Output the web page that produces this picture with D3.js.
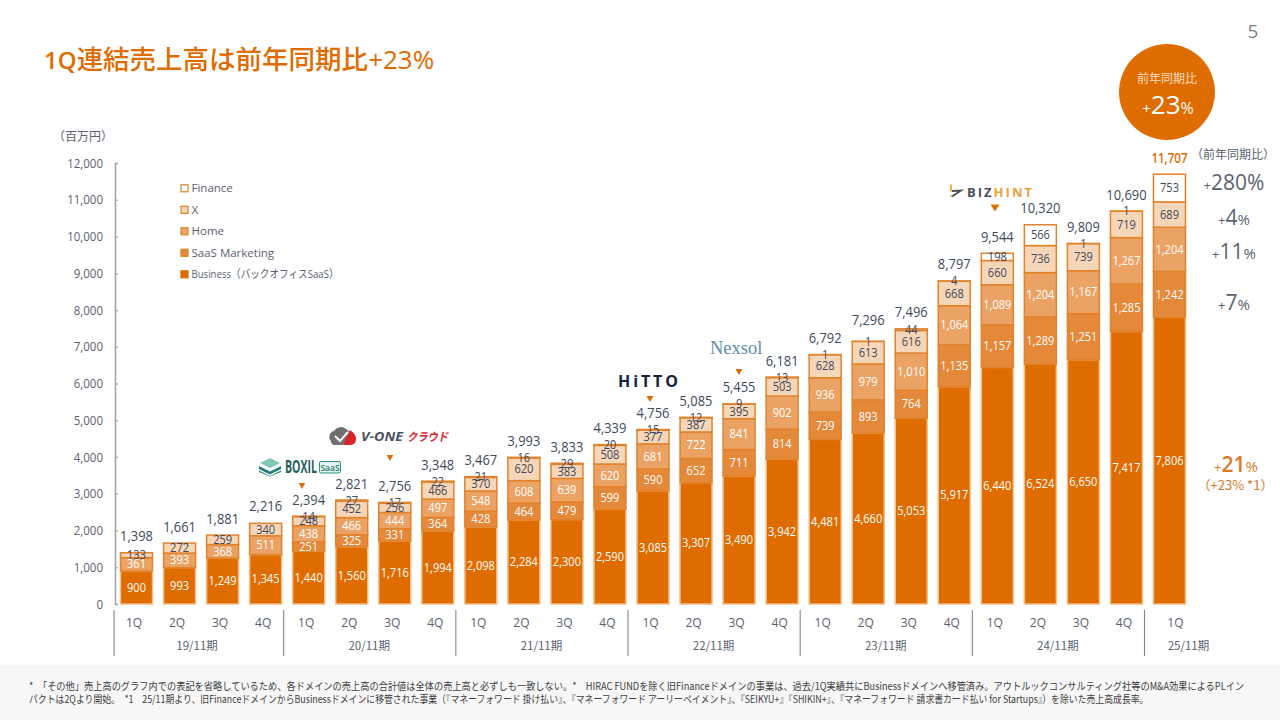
<!DOCTYPE html>
<html>
<head>
<meta charset="utf-8">
<script src="https://cdn.jsdelivr.net/npm/d3@7"></script>
<style>
  html, body { margin: 0; padding: 0; background: #fff; }
  svg { display: block; }
  text { font-family: "Open Sans", "Noto Sans CJK JP", sans-serif; }
  .jp { font-family: "Noto Sans CJK JP", "Open Sans", sans-serif; }
</style>
</head>
<body>
<svg id="chart" width="1280" height="720"></svg>
<script>
// Values
const quarters = ['1Q','2Q','3Q','4Q','1Q','2Q','3Q','4Q','1Q','2Q','3Q','4Q','1Q','2Q','3Q','4Q','1Q','2Q','3Q','4Q','1Q','2Q','3Q','4Q','1Q'];
const periods = ['19/11期','20/11期','21/11期','22/11期','23/11期','24/11期','25/11期'];
const business = [900,993,1249,1345,1440,1560,1716,1994,2098,2284,2300,2590,3085,3307,3490,3942,4481,4660,5053,5917,6440,6524,6650,7417,7806];
const saasMarketing = [0,0,0,0,251,325,331,364,428,464,479,599,590,652,711,814,739,893,764,1135,1157,1289,1251,1285,1242];
const home = [361,393,368,511,438,466,444,497,548,608,639,620,681,722,841,902,936,979,1010,1064,1089,1204,1167,1267,1204];
const xDomain = [133,272,259,340,248,452,256,466,370,620,383,508,377,387,395,503,628,613,616,668,660,736,739,719,689];
const finance = [0,0,0,0,14,27,17,22,21,16,29,20,15,12,9,13,1,1,44,4,198,566,1,1,753];
const totals = [1398,1661,1881,2216,2394,2821,2756,3348,3467,3993,3833,4339,4756,5085,5455,6181,6792,7296,7496,8797,9544,10320,9809,10690,11707];
const yTicks = [0,1000,2000,3000,4000,5000,6000,7000,8000,9000,10000,11000,12000];

const seriesNames = ['Business（バックオフィスSaaS）','SaaS Marketing','Home','X','Finance'];
const seriesValues = [business, saasMarketing, home, xDomain, finance];
const fills = ['#DE6C00','#E4883A','#EBA365','#F6D6B8','#FFFFFF'];
const strokes = ['#F5BE85','#E2832C','#E2832C','#E2832C','#E2832C'];
const labelFills = ['#fff','#fff','#fff','#404A5C','#404A5C'];

const growthLabels = ['280','4','11','7'];
const growthCenters = [183,218,252,303];

const svg = d3.select('#chart');
const ORANGE = '#DE6C00';
const INK = '#404A5C';
const GREY = '#5A6270';

// Squeeze wide Open Sans numbers closer to the slide's narrower face
function condense(sel, ratio) {
  sel.each(function() {
    const r = typeof ratio === 'function' ? ratio.apply(this, arguments) : ratio;
    d3.select(this).attr('textLength', this.getComputedTextLength() * r).attr('lengthAdjust', 'spacingAndGlyphs');
  });
}

// Long lines and logo words: scale horizontally so the box really is that wide
function fitLine(sel, left, baseline, width) {
  const len = sel.node().getComputedTextLength();
  sel.attr('transform', `translate(${left},${baseline}) scale(${width / len},1)`);
}

// Footer band
svg.append('rect').attr('x', 0).attr('y', 665).attr('width', 1280).attr('height', 55).attr('fill', '#F7F7F7');

// Scales
const x = d3.scaleBand().domain(d3.range(quarters.length)).range([115, 1191]).paddingInner(0.257).paddingOuter(0.1285);
const y = d3.scaleLinear().domain([0, 12000]).range([604, 163]);

// Y axis
const yAxis = svg.append('g')
  .attr('transform', 'translate(115,0)')
  .call(d3.axisLeft(y).tickValues(yTicks).tickFormat(d3.format(',')).tickSizeInner(-3).tickSizeOuter(-3).tickPadding(12));
yAxis.selectAll('path,line').attr('stroke', '#A6A6A6').attr('stroke-width', 1.2);
yAxis.select('.domain').attr('stroke-width', 1.6);
yAxis.selectAll('text').attr('fill', GREY).style('font-size', '12.5px').call(condense, 0.92);

svg.append('text').attr('class', 'jp').attr('x', 113).attr('y', 141).attr('text-anchor', 'end')
  .attr('fill', GREY).style('font-size', '12px').text('（百万円）');

// Stacked bars
const stack = seriesValues.map((vals, s) => vals.map((v, i) => {
  const base = d3.sum(seriesValues.slice(0, s), a => a[i]);
  return { i, s, v, y0: base, y1: base + v };
}));

const layers = svg.append('g').selectAll('g').data(stack).join('g');

layers.selectAll('rect')
  .data(d => d.filter(c => c.v > 0))
  .join('rect')
  .attr('x', d => x(d.i))
  .attr('width', x.bandwidth())
  .attr('y', d => y(d.y1))
  .attr('height', d => y(d.y0) - y(d.y1))
  .attr('fill', d => fills[d.s])
  .attr('stroke', d => strokes[d.s])
  .attr('stroke-width', 1.5);

const segLabels = svg.append('g').selectAll('g').data(stack).join('g');
segLabels.selectAll('text')
  .data(d => d.filter(c => c.v > 0))
  .join('text')
  .attr('x', d => x(d.i) + x.bandwidth() / 2)
  .attr('y', d => (y(d.y0) + y(d.y1)) / 2)
  .attr('dy', '0.35em')
  .attr('text-anchor', 'middle')
  .attr('fill', d => labelFills[d.s])
  .style('font-size', '12px')
  .text(d => d3.format(',')(d.v))
  .call(condense, 0.92);

// Totals above the bars
svg.append('g').selectAll('text')
  .data(totals)
  .join('text')
  .attr('x', (d, i) => x(i) + x.bandwidth() / 2)
  .attr('y', d => y(d) - 16.5)
  .attr('dy', '0.35em')
  .attr('text-anchor', 'middle')
  .attr('fill', (d, i) => i === totals.length - 1 ? ORANGE : INK)
  .style('font-size', '15px')
  .style('font-weight', (d, i) => i === totals.length - 1 ? 600 : 400)
  .text(d => d3.format(',')(d))
  .call(condense, (d, i) => i === totals.length - 1 ? 0.77 : 0.86);

// Quarter labels
const xAxis = svg.append('g')
  .attr('transform', 'translate(-2.5,610)')
  .call(d3.axisBottom(x).tickSize(0).tickPadding(8).tickFormat(i => quarters[i]));
xAxis.select('.domain').remove();
xAxis.selectAll('text').attr('fill', GREY).style('font-size', '12px');
xAxis.selectAll('.tick').filter(i => i === quarters.length - 1).select('text').attr('dx', 8.5);

// Fiscal year separators and labels
const groupStarts = d3.range(0, 25, 4);
svg.append('g').selectAll('line')
  .data(groupStarts)
  .join('line')
  .attr('x1', d => x(d) - (d === 0 ? 6.5 : 9))
  .attr('x2', d => x(d) - (d === 0 ? 6.5 : 9))
  .attr('y1', 610).attr('y2', 656)
  .attr('stroke', '#7F8590').attr('stroke-width', 1.1);

svg.append('g').selectAll('text')
  .data(periods)
  .join('text')
  .attr('class', 'jp')
  .attr('x', (d, k) => k < 6 ? (x(k * 4) + x(k * 4 + 3) + x.bandwidth()) / 2 - 4 : x(24) + x.bandwidth() / 2 + 19)
  .attr('y', 650)
  .attr('text-anchor', 'middle')
  .attr('fill', GREY)
  .style('font-size', '11.5px')
  .text(d => d);

// Legend
const legendRows = seriesNames.map((n, s) => ({ n, s })).reverse();
const legend = svg.append('g').selectAll('g').data(legendRows).join('g')
  .attr('transform', (d, k) => `translate(181,${188.3 + k * 21.5})`);
legend.append('rect').attr('x', 0).attr('y', -3.5).attr('width', 7).attr('height', 7)
  .attr('fill', d => fills[d.s])
  .attr('stroke', d => d.s === 0 ? ORANGE : '#D9822B').attr('stroke-width', 1.2);
legend.append('text').attr('x', 10.5).attr('dy', '0.35em').attr('fill', GREY)
  .style('font-size', '11.5px').text(d => d.n)
  .filter(d => d.s === 0).attr('textLength', 147).attr('lengthAdjust', 'spacingAndGlyphs');

// Title, page number
const title = svg.append('text').attr('x', 44).attr('y', 69).attr('fill', ORANGE);
title.append('tspan').style('font-size', '24px').style('font-weight', 600).text('1Q');
title.append('tspan').attr('class', 'jp').style('font-size', '26.5px').style('font-weight', 500).text('連結売上高は前年同期比');
title.append('tspan').style('font-size', '26px').style('font-weight', 500).text('+23%');
svg.append('text').attr('x', 1253).attr('y', 38).attr('text-anchor', 'middle').attr('fill', '#7F7F7F')
  .style('font-size', '19px').text('5');

// YoY badge
svg.append('circle').attr('cx', 1167).attr('cy', 92).attr('r', 48).attr('fill', ORANGE);
svg.append('text').attr('class', 'jp').attr('x', 1167).attr('y', 83).attr('text-anchor', 'middle')
  .attr('fill', '#F9DCC0').style('font-size', '12px').text('前年同期比');
const badge = svg.append('text').attr('x', 1168).attr('y', 114).attr('text-anchor', 'middle').attr('fill', '#fff');
badge.append('tspan').style('font-size', '15px').text('+');
badge.append('tspan').style('font-size', '26px').text('23');
badge.append('tspan').style('font-size', '16px').text('%');

// YoY column on the right
svg.append('text').attr('class', 'jp').attr('x', 1233).attr('y', 159).attr('text-anchor', 'middle')
  .attr('fill', GREY).style('font-size', '12px').text('（前年同期比）');
growthLabels.forEach((big, k) => {
  const t = svg.append('text').attr('x', 1234).attr('y', growthCenters[k] + 7).attr('text-anchor', 'middle').attr('fill', GREY);
  t.append('tspan').style('font-size', '13px').text('+');
  t.append('tspan').style('font-size', '21px').text(big);
  t.append('tspan').style('font-size', big === '280' ? '21px' : '15px').text('%');
});
const g21 = svg.append('text').attr('x', 1236).attr('y', 472).attr('text-anchor', 'middle').attr('fill', '#D97A2B');
g21.append('tspan').style('font-size', '13px').text('+');
g21.append('tspan').style('font-size', '21px').style('font-weight', 600).text('21');
g21.append('tspan').style('font-size', '15px').text('%');
svg.append('text').attr('class', 'jp').attr('x', 1235.5).attr('y', 490).attr('text-anchor', 'middle')
  .attr('fill', '#D97A2B').style('font-size', '13px').text('（+23% *1）');

// Acquisition markers: x, y, width, height
const markers = [[302, 486, 6.5, 6], [390, 458, 6.5, 6], [650, 399, 7, 6], [739, 372, 7, 6], [995, 208, 9, 7]];
svg.append('g').selectAll('path').data(markers).join('path')
  .attr('d', d => `M${d[0] - d[2] / 2},${d[1] - d[3] / 2}h${d[2]}l${-d[2] / 2},${d[3]}z`)
  .attr('fill', ORANGE);

// BOXIL SaaS
svg.append('path').attr('d', 'M270,458l10,5l-10,5l-10,-5z').attr('fill', '#7FC8B8');
svg.append('path').attr('d', 'M259,466l11,5.5l11,-5.5v3l-11,5.5l-11,-5.5zM259,470.5l11,5.5l11,-5.5v1.5l-11,4.5l-11,-4.5z').attr('fill', '#1E7F78');
const boxil = svg.append('text').attr('fill', '#1F5F5B').style('font-size', '17.5px').style('font-weight', 700).text('BOXIL');
fitLine(boxil, 285, 473, 32);
svg.append('rect').attr('x', 319.5).attr('y', 461.5).attr('width', 21).attr('height', 11.5).attr('rx', 1.5).attr('fill', '#E6F3F1').attr('stroke', '#2A8C84');
svg.append('text').attr('x', 330).attr('y', 470.5).attr('text-anchor', 'middle').attr('fill', '#1F7A73').style('font-size', '8.5px').style('font-weight', 600).text('SaaS');

// V-ONE
svg.append('path').attr('d', 'M331,441a6,6 0 0 1 3,-10a8,8 0 0 1 12,-2l4,3l-7,13h-9a4,4 0 0 1 -3,-4z').attr('fill', '#6E6E6E');
svg.append('path').attr('d', 'M349,445h-6l7,-15q6,4 6,9q0,6 -7,6z').attr('fill', '#D8232A');
svg.append('path').attr('d', 'M335,436l5,5l8,-9').attr('fill', 'none').attr('stroke', '#fff').attr('stroke-width', 2);
const vone = svg.append('text').attr('fill', '#4A5060').style('font-size', '13px').style('font-weight', 700).style('font-style', 'italic').text('V-ONE');
fitLine(vone, 361, 441, 42);
const cloud = svg.append('text').attr('class', 'jp').attr('fill', '#D8232A').style('font-size', '11.5px').style('font-weight', 700).style('font-style', 'italic').text('クラウド');
fitLine(cloud, 407, 441, 41);

// HiTTO
svg.append('text').attr('x', 618).attr('y', 387).attr('fill', '#14233F').attr('textLength', 60)
  .style('font-size', '16px').style('font-weight', 700).text('HiTTO');

// Nexsol
svg.append('text').attr('x', 710).attr('y', 354).attr('fill', '#5E8CAB').style('font-family', '"Liberation Serif", serif').style('font-size', '18.5px').text('Nexsol');

// BIZHINT
svg.append('path').attr('d', 'M952,191l9,-0.5l-9,6').attr('fill', 'none').attr('stroke', '#4A4F5A').attr('stroke-width', 1.8);
svg.append('path').attr('d', 'M951,184.5v7M951,195v1.5').attr('stroke', '#E8A33D').attr('stroke-width', 1.8);
const biz = svg.append('text').attr('x', 967).attr('y', 197).attr('textLength', 65).style('font-size', '13px').style('font-weight', 700);
biz.append('tspan').attr('fill', '#4A4F5A').text('BIZ');
biz.append('tspan').attr('fill', '#E8A33D').text('HINT');

// Footnote
const note1 = svg.append('text').attr('class', 'jp').attr('fill', '#404040').style('font-size', '10.5px')
  .text('*　「その他」売上高のグラフ内での表記を省略しているため、各ドメインの売上高の合計値は全体の売上高と必ずしも一致しない。*　HIRAC FUNDを除く旧Financeドメインの事業は、過去/1Q実績共にBusinessドメインへ移管済み。アウトルックコンサルティング社等のM&A効果によるPLイン');
fitLine(note1, 29, 690, 1216);
const note2 = svg.append('text').attr('class', 'jp').attr('fill', '#404040').style('font-size', '10.5px')
  .text('パクトは2Qより開始。　*1　25/11期より、旧FinanceドメインからBusinessドメインに移管された事業（『マネーフォワード 掛け払い』、『マネーフォワード アーリーペイメント』、『SEIKYU+』『SHIKIN+』、『マネーフォワード 請求書カード払い for Startups』）を除いた売上高成長率。');
fitLine(note2, 29, 703, 1121);
</script>
</body>
</html>
